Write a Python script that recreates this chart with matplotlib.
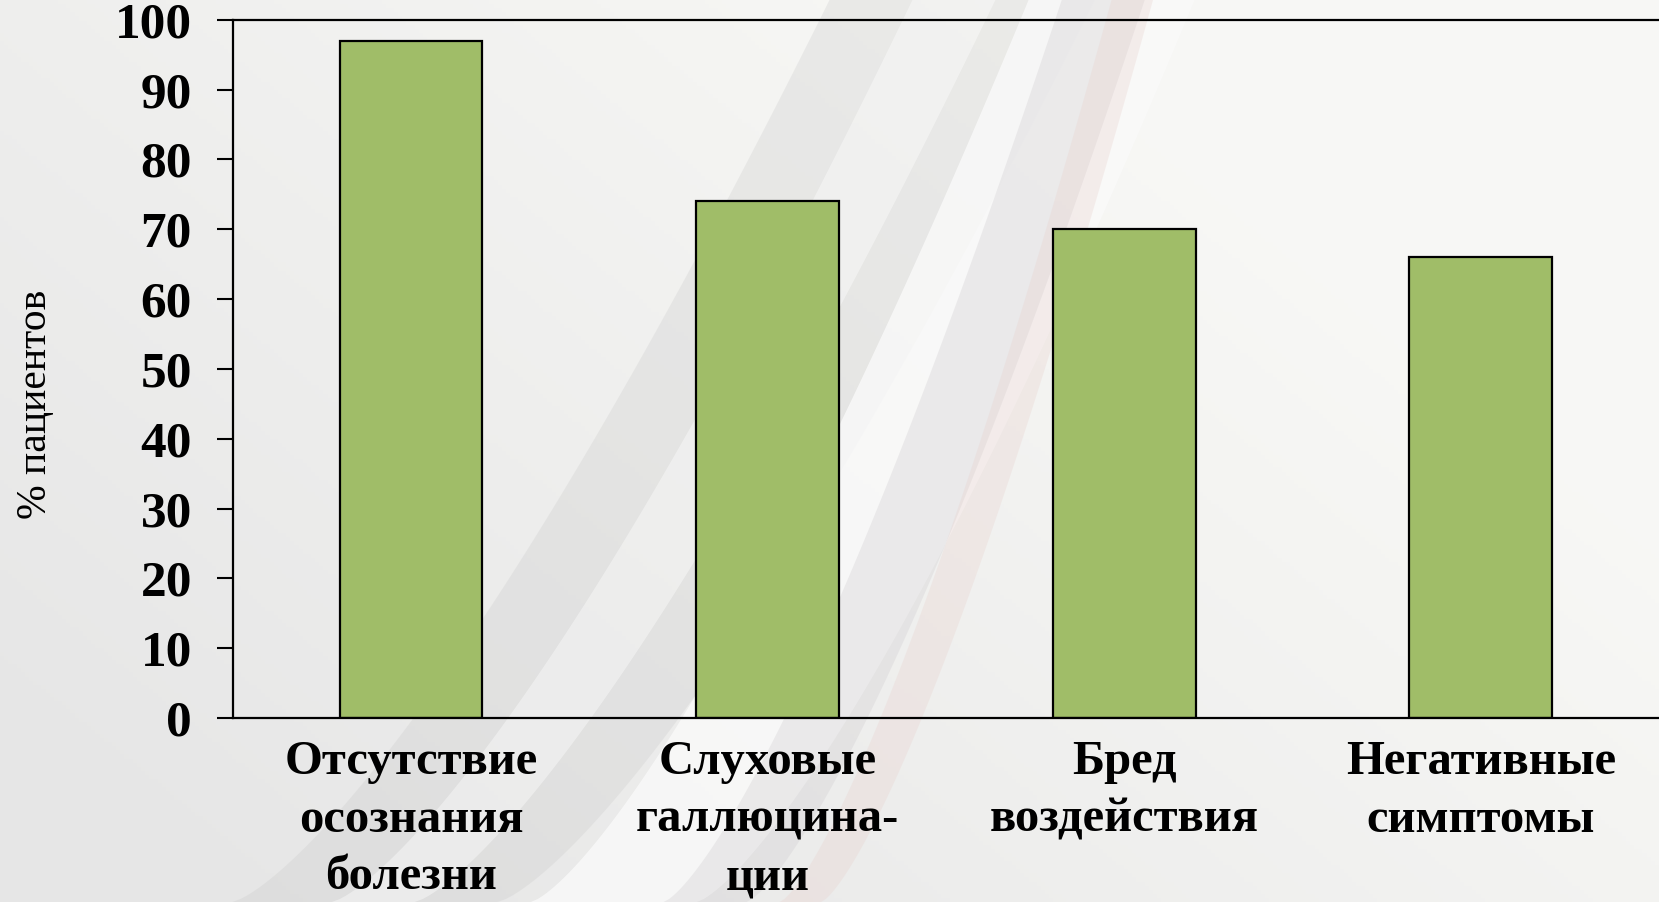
import matplotlib
matplotlib.use("Agg")
import matplotlib.pyplot as plt
import numpy as np

categories = [
    "Отсутствие\nосознания\nболезни",
    "Слуховые\nгаллюцина-\nции",
    "Бред\nвоздействия",
    "Негативные\nсимптомы",
]
percent = [97, 74, 70, 66]
y_ticks = [0, 10, 20, 30, 40, 50, 60, 70, 80, 90, 100]
y_label = "% пациентов"

serif = ["Liberation Serif", "DejaVu Serif"]

fig = plt.figure(figsize=(16.59, 9.02), dpi=100)
fig.patch.set_facecolor("#ebebeb")

# slide backdrop: smooth pale gradient plus soft diagonal swooshes
bg = fig.add_axes([0, 0, 1, 1], zorder=0)
bg.set_xlim(0, 1)
bg.set_ylim(0, 1)
bg.axis("off")
gx, gy = np.meshgrid(np.linspace(0, 1, 400), np.linspace(0, 1, 220))
light = np.clip(0.6 * gy + 0.9 * gx - 0.15, 0, 1)
base = np.zeros(gx.shape + (3,))
for i, (lo, hi) in enumerate([(0.905, 0.972), (0.905, 0.972), (0.905, 0.962)]):
    base[..., i] = lo + (hi - lo) * light
bg.imshow(base, extent=(0, 1, 0, 1), origin="lower", aspect="auto", zorder=0)

yy = np.linspace(0, 1, 300)
bands = [
    # x at bottom, x at top, width, colour, alpha
    (0.14, 0.50, 0.16, "#c4c4c4", 0.25),
    (0.20, 0.55, 0.05, "#ffffff", 0.40),
    (0.32, 0.62, 0.10, "#fafafa", 0.80),
    (0.40, 0.64, 0.05, "#d2cfd2", 0.35),
    (0.47, 0.67, 0.025, "#e8d0cc", 0.30),
]
for x_bot, x_top, w, col, a in bands:
    xc = x_bot + (x_top - x_bot) * yy ** 0.75
    bg.fill_betweenx(yy, xc, xc + w, color=col, alpha=a, lw=0, zorder=1)

ax = fig.add_axes([0.1404, 0.204, 0.8596, 0.774], zorder=1)
ax.set_facecolor("none")

x = np.arange(len(categories))
ax.bar(x, percent, width=0.40, color="#a0bd68", edgecolor="black", linewidth=1.6, zorder=2)

ax.set_xlim(-0.5, 3.5)
ax.set_ylim(0, 100)
ax.set_yticks(y_ticks)
ax.set_yticklabels([str(v) for v in y_ticks], family=serif, fontsize=37, fontweight="bold")
ax.set_xticks(x)
ax.set_xticklabels(categories, family=serif, fontsize=35, fontweight="bold", linespacing=1.4)

ax.tick_params(axis="y", length=11.5, width=1.5, pad=18)
ax.tick_params(axis="x", length=0, pad=16)
for side in ["left", "bottom", "top"]:
    ax.spines[side].set_linewidth(1.6)
ax.spines["right"].set_visible(False)

ax.set_ylabel(y_label, family=serif, fontsize=30)
ax.yaxis.set_label_coords(-0.125, 0.45)

fig.savefig("out.png", dpi=100, facecolor=fig.get_facecolor())
